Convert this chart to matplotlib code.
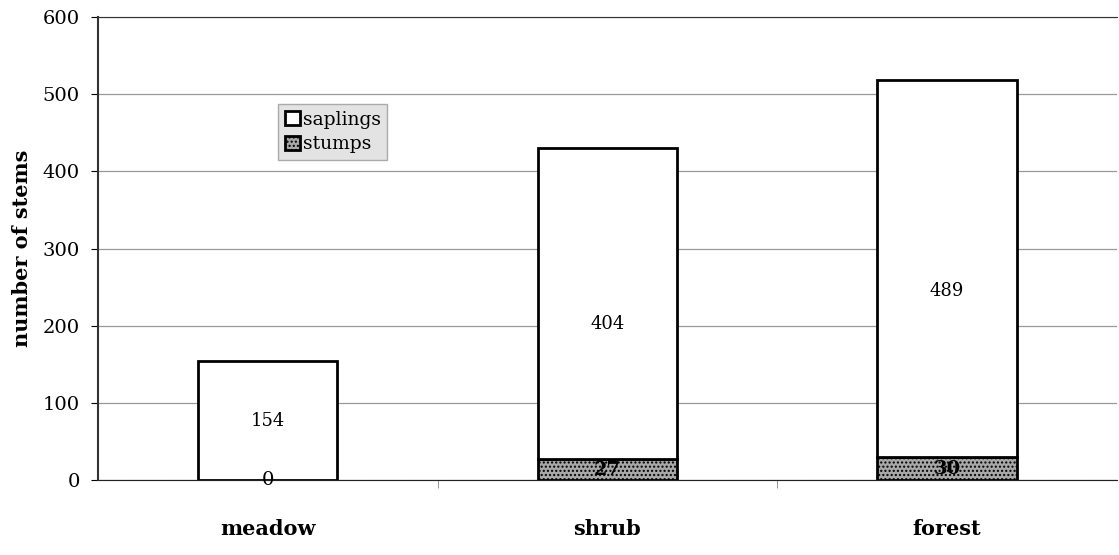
import matplotlib.pyplot as plt
import numpy as np

categories = ["meadow", "shrub", "forest"]
stumps = [0, 27, 30]
saplings = [154, 404, 489]
yticks = [0, 100, 200, 300, 400, 500, 600]

plt.rcParams['font.family'] = ['DejaVu Serif']

fig = plt.figure(figsize=(11.19, 5.55), dpi=100)
ax = fig.add_axes([0.0876, 0.135, 0.9104, 0.834])

x = np.arange(len(categories))
w = 0.41

# gridlines
ax.set_axisbelow(True)
ax.yaxis.grid(True, color='#999999', linewidth=0.9)

b1 = ax.bar(x, stumps, w, color='#a8a8a8', edgecolor='black', linewidth=2, hatch='....', label='stumps')
b2 = ax.bar(x, saplings, w, bottom=stumps, color='white', edgecolor='black', linewidth=2, label='saplings')

# labels
for i in range(len(categories)):
    ax.text(x[i], saplings[i] / 2, str(saplings[i]), ha='center', va='center', fontsize=13)
    ax.text(x[i], stumps[i] / 2, str(stumps[i]), ha='center', va='center', fontsize=14,
            fontweight='bold' if stumps[i] > 0 else 'normal')

ax.set_xlim(-0.5, 2.5)
ax.set_ylim(0, 600)
ax.set_yticks(yticks)
ax.set_yticklabels([str(t) for t in yticks], fontsize=14)
ax.set_xticks(x)
ax.set_xticklabels(categories, fontsize=15, fontweight='bold')
ax.tick_params(axis='x', length=0, pad=28)
ax.set_xticks([0.5, 1.5], minor=True)
ax.tick_params(axis='x', which='minor', length=6, color='#888888', direction='out')
ax.tick_params(axis='y', length=5, direction='out', pad=8)

ax.set_ylabel('number of stems', fontsize=15, fontweight='bold', labelpad=8)

ax.spines['right'].set_visible(False)
ax.spines['top'].set_linestyle((0, (1, 0.5)))
ax.spines['top'].set_color('#333333')
ax.spines['bottom'].set_linestyle((0, (1, 0.5)))
ax.spines['bottom'].set_color('#222222')
ax.spines['left'].set_color('#333333')
ax.spines['left'].set_linewidth(1.5)

leg = ax.legend(handles=[b2, b1], loc='upper left', bbox_to_anchor=(0.177, 0.812),
                fontsize=13.5, frameon=True, fancybox=False, handlelength=0.8, handleheight=0.8,
                handletextpad=0.15, borderpad=0.35, labelspacing=0.35, borderaxespad=0)
leg.get_frame().set_facecolor('#dcdcdc')
leg.get_frame().set_edgecolor('#999999')

fig.savefig('out.png', dpi=100)
